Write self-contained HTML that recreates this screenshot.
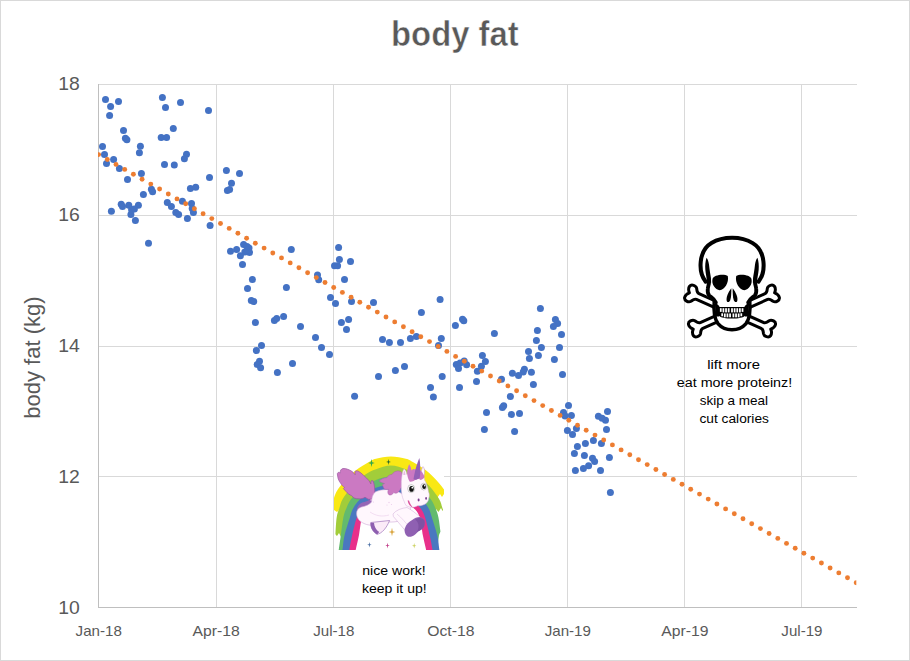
<!DOCTYPE html>
<html><head><meta charset="utf-8"><title>body fat</title>
<style>
html,body{margin:0;padding:0;background:#fff;}
#chart{position:relative;width:910px;height:661px;background:#fff;overflow:hidden;font-family:"Liberation Sans",sans-serif;}
#frame{position:absolute;left:0;top:0;width:908px;height:659px;border:1px solid #D9D9D9;pointer-events:none;}
</style></head><body>
<div id="chart">
<svg width="910" height="661" viewBox="0 0 910 661" style="position:absolute;left:0;top:0">
<defs><clipPath id="plot"><rect x="98" y="84" width="758.3" height="524"/></clipPath></defs>
<g shape-rendering="crispEdges" fill="#D9D9D9">
<rect x="98" y="84" width="759" height="1"/>
<rect x="98" y="215" width="759" height="1"/>
<rect x="98" y="346" width="759" height="1"/>
<rect x="98" y="476" width="759" height="1"/>
<rect x="216" y="84" width="1" height="523"/>
<rect x="333" y="84" width="1" height="523"/>
<rect x="450" y="84" width="1" height="523"/>
<rect x="567" y="84" width="1" height="523"/>
<rect x="684" y="84" width="1" height="523"/>
<rect x="801" y="84" width="1" height="523"/>
</g>
<g shape-rendering="crispEdges" fill="#BFBFBF">
<rect x="98" y="84" width="1" height="524"/>
<rect x="98" y="607" width="759" height="1"/>
</g>
<g fill="#4472C4">
<circle cx="105.5" cy="99.6" r="3.5"/>
<circle cx="118.5" cy="101.5" r="3.5"/>
<circle cx="110.6" cy="106.6" r="3.5"/>
<circle cx="109.6" cy="115.4" r="3.5"/>
<circle cx="162.4" cy="97.4" r="3.5"/>
<circle cx="165.5" cy="107.5" r="3.5"/>
<circle cx="180.5" cy="102.5" r="3.5"/>
<circle cx="208.5" cy="110.6" r="3.5"/>
<circle cx="123.5" cy="130.5" r="3.5"/>
<circle cx="125.4" cy="138.2" r="3.5"/>
<circle cx="126.9" cy="139.7" r="3.5"/>
<circle cx="173.3" cy="128.4" r="3.5"/>
<circle cx="161.2" cy="137.6" r="3.5"/>
<circle cx="166.6" cy="137.6" r="3.5"/>
<circle cx="140.4" cy="146.3" r="3.5"/>
<circle cx="139.4" cy="152.7" r="3.5"/>
<circle cx="102.5" cy="146.4" r="3.5"/>
<circle cx="104.5" cy="154.4" r="3.5"/>
<circle cx="113.6" cy="159.5" r="3.5"/>
<circle cx="106.5" cy="163.5" r="3.5"/>
<circle cx="186.5" cy="154.3" r="3.5"/>
<circle cx="184.4" cy="158.7" r="3.5"/>
<circle cx="164.5" cy="164.4" r="3.5"/>
<circle cx="174.3" cy="165" r="3.5"/>
<circle cx="119.4" cy="168.5" r="3.5"/>
<circle cx="141.4" cy="173.4" r="3.5"/>
<circle cx="127.5" cy="179.6" r="3.5"/>
<circle cx="209.5" cy="177.4" r="3.5"/>
<circle cx="190.4" cy="188.6" r="3.5"/>
<circle cx="195.7" cy="187.3" r="3.5"/>
<circle cx="151.4" cy="189.3" r="3.5"/>
<circle cx="152.6" cy="191.7" r="3.5"/>
<circle cx="143.4" cy="194.4" r="3.5"/>
<circle cx="167.3" cy="202.4" r="3.5"/>
<circle cx="171.4" cy="206.5" r="3.5"/>
<circle cx="175.8" cy="212.4" r="3.5"/>
<circle cx="178.6" cy="214.5" r="3.5"/>
<circle cx="182.4" cy="201.3" r="3.5"/>
<circle cx="191.5" cy="203.4" r="3.5"/>
<circle cx="192.2" cy="208.4" r="3.5"/>
<circle cx="193.4" cy="212.4" r="3.5"/>
<circle cx="187.4" cy="218.5" r="3.5"/>
<circle cx="210.1" cy="225.5" r="3.5"/>
<circle cx="111.4" cy="211.3" r="3.5"/>
<circle cx="121.2" cy="204.2" r="3.5"/>
<circle cx="122.5" cy="206.5" r="3.5"/>
<circle cx="128.8" cy="205.3" r="3.5"/>
<circle cx="138.4" cy="205.3" r="3.5"/>
<circle cx="131.6" cy="209.7" r="3.5"/>
<circle cx="134.4" cy="209.1" r="3.5"/>
<circle cx="130.9" cy="214.5" r="3.5"/>
<circle cx="135.4" cy="220.6" r="3.5"/>
<circle cx="148.5" cy="243.3" r="3.5"/>
<circle cx="226.4" cy="170.5" r="3.5"/>
<circle cx="239.5" cy="173.4" r="3.5"/>
<circle cx="231.5" cy="183.3" r="3.5"/>
<circle cx="227.4" cy="190.5" r="3.5"/>
<circle cx="229.6" cy="189.6" r="3.5"/>
<circle cx="243.6" cy="244.4" r="3.5"/>
<circle cx="247.0" cy="246.4" r="3.5"/>
<circle cx="249" cy="248" r="3.5"/>
<circle cx="249.5" cy="252.6" r="3.5"/>
<circle cx="244.8" cy="252" r="3.5"/>
<circle cx="240.4" cy="255.7" r="3.5"/>
<circle cx="236.6" cy="249.4" r="3.5"/>
<circle cx="230.5" cy="251.3" r="3.5"/>
<circle cx="291.3" cy="249.6" r="3.5"/>
<circle cx="242.5" cy="264.6" r="3.5"/>
<circle cx="252.4" cy="279.5" r="3.5"/>
<circle cx="247.5" cy="288.4" r="3.5"/>
<circle cx="251.3" cy="300.5" r="3.5"/>
<circle cx="253.7" cy="301.5" r="3.5"/>
<circle cx="255.4" cy="322.4" r="3.5"/>
<circle cx="274.4" cy="320.6" r="3.5"/>
<circle cx="276.7" cy="318.4" r="3.5"/>
<circle cx="283.6" cy="316.4" r="3.5"/>
<circle cx="286.4" cy="287.4" r="3.5"/>
<circle cx="300.5" cy="326.5" r="3.5"/>
<circle cx="317.5" cy="275.1" r="3.5"/>
<circle cx="318.7" cy="279.8" r="3.5"/>
<circle cx="261.5" cy="345.4" r="3.5"/>
<circle cx="256.4" cy="350.6" r="3.5"/>
<circle cx="259.5" cy="361.2" r="3.5"/>
<circle cx="257.2" cy="364.6" r="3.5"/>
<circle cx="260.6" cy="367.8" r="3.5"/>
<circle cx="277.4" cy="372.5" r="3.5"/>
<circle cx="292.5" cy="363.5" r="3.5"/>
<circle cx="315.5" cy="337.5" r="3.5"/>
<circle cx="321.5" cy="347.6" r="3.5"/>
<circle cx="338.6" cy="247.5" r="3.5"/>
<circle cx="339.4" cy="259.5" r="3.5"/>
<circle cx="350.5" cy="261.4" r="3.5"/>
<circle cx="334.5" cy="265.8" r="3.5"/>
<circle cx="337.6" cy="265.8" r="3.5"/>
<circle cx="344.5" cy="279.5" r="3.5"/>
<circle cx="330.5" cy="297.4" r="3.5"/>
<circle cx="335.5" cy="303.4" r="3.5"/>
<circle cx="351.5" cy="301.6" r="3.5"/>
<circle cx="373.5" cy="302.4" r="3.5"/>
<circle cx="421.4" cy="312.4" r="3.5"/>
<circle cx="440.1" cy="299.5" r="3.5"/>
<circle cx="348.6" cy="319.5" r="3.5"/>
<circle cx="341.4" cy="322.5" r="3.5"/>
<circle cx="346.5" cy="329.4" r="3.5"/>
<circle cx="382.5" cy="339.4" r="3.5"/>
<circle cx="389.4" cy="342.5" r="3.5"/>
<circle cx="400.5" cy="342.5" r="3.5"/>
<circle cx="410.4" cy="338.5" r="3.5"/>
<circle cx="416.4" cy="336.4" r="3.5"/>
<circle cx="441.3" cy="338.5" r="3.5"/>
<circle cx="438.5" cy="345.6" r="3.5"/>
<circle cx="329.5" cy="354.4" r="3.5"/>
<circle cx="378.5" cy="376.4" r="3.5"/>
<circle cx="395.4" cy="370.5" r="3.5"/>
<circle cx="404.5" cy="366.5" r="3.5"/>
<circle cx="430.5" cy="387.5" r="3.5"/>
<circle cx="354.6" cy="396.2" r="3.5"/>
<circle cx="433.4" cy="397" r="3.5"/>
<circle cx="442.2" cy="376.4" r="3.5"/>
<circle cx="462.5" cy="319.3" r="3.5"/>
<circle cx="463.8" cy="320.8" r="3.5"/>
<circle cx="455.4" cy="325.5" r="3.5"/>
<circle cx="494.4" cy="333.6" r="3.5"/>
<circle cx="540.4" cy="308.6" r="3.5"/>
<circle cx="555.4" cy="319.5" r="3.5"/>
<circle cx="557.6" cy="323.5" r="3.5"/>
<circle cx="553.4" cy="326.6" r="3.5"/>
<circle cx="537.4" cy="330.4" r="3.5"/>
<circle cx="536.4" cy="340.5" r="3.5"/>
<circle cx="541.4" cy="347.5" r="3.5"/>
<circle cx="528.5" cy="351.4" r="3.5"/>
<circle cx="529.4" cy="358.6" r="3.5"/>
<circle cx="538.4" cy="355.6" r="3.5"/>
<circle cx="554.4" cy="359.5" r="3.5"/>
<circle cx="482.4" cy="355.5" r="3.5"/>
<circle cx="485.4" cy="361.4" r="3.5"/>
<circle cx="481.4" cy="366.3" r="3.5"/>
<circle cx="477.4" cy="371.2" r="3.5"/>
<circle cx="464.2" cy="361.1" r="3.5"/>
<circle cx="466.6" cy="364.7" r="3.5"/>
<circle cx="456.3" cy="364.5" r="3.5"/>
<circle cx="460.1" cy="363" r="3.5"/>
<circle cx="458.5" cy="368.5" r="3.5"/>
<circle cx="512.4" cy="373.2" r="3.5"/>
<circle cx="524.4" cy="369.2" r="3.5"/>
<circle cx="523.2" cy="371.9" r="3.5"/>
<circle cx="531.4" cy="372.3" r="3.5"/>
<circle cx="459.5" cy="387.6" r="3.5"/>
<circle cx="476.5" cy="381.6" r="3.5"/>
<circle cx="501.5" cy="379.2" r="3.5"/>
<circle cx="518.5" cy="375.5" r="3.5"/>
<circle cx="533.4" cy="384.5" r="3.5"/>
<circle cx="510.4" cy="396.4" r="3.5"/>
<circle cx="502.4" cy="407.5" r="3.5"/>
<circle cx="503.7" cy="405.8" r="3.5"/>
<circle cx="486.5" cy="412.5" r="3.5"/>
<circle cx="511.4" cy="414.4" r="3.5"/>
<circle cx="519.5" cy="413.4" r="3.5"/>
<circle cx="484.4" cy="429.6" r="3.5"/>
<circle cx="514.6" cy="431.5" r="3.5"/>
<circle cx="561.5" cy="334.5" r="3.5"/>
<circle cx="559.5" cy="347.5" r="3.5"/>
<circle cx="562.5" cy="374.6" r="3.5"/>
<circle cx="568.5" cy="405.5" r="3.5"/>
<circle cx="563.5" cy="412.5" r="3.5"/>
<circle cx="565.1" cy="415.9" r="3.5"/>
<circle cx="571.4" cy="415.4" r="3.5"/>
<circle cx="607.5" cy="411.5" r="3.5"/>
<circle cx="598.4" cy="416.3" r="3.5"/>
<circle cx="602.1" cy="418.2" r="3.5"/>
<circle cx="605.5" cy="420.3" r="3.5"/>
<circle cx="606.5" cy="429.5" r="3.5"/>
<circle cx="576.4" cy="428.6" r="3.5"/>
<circle cx="567.4" cy="430.5" r="3.5"/>
<circle cx="572.5" cy="434.5" r="3.5"/>
<circle cx="593.4" cy="440.5" r="3.5"/>
<circle cx="585.4" cy="443.4" r="3.5"/>
<circle cx="601.4" cy="443.5" r="3.5"/>
<circle cx="577.4" cy="446.4" r="3.5"/>
<circle cx="574.4" cy="453.4" r="3.5"/>
<circle cx="584.4" cy="455.4" r="3.5"/>
<circle cx="592.5" cy="458.3" r="3.5"/>
<circle cx="594.6" cy="461.5" r="3.5"/>
<circle cx="609.4" cy="457.5" r="3.5"/>
<circle cx="588.6" cy="465.8" r="3.5"/>
<circle cx="583.4" cy="468.5" r="3.5"/>
<circle cx="575.4" cy="470.5" r="3.5"/>
<circle cx="600.5" cy="470.5" r="3.5"/>
<circle cx="610.4" cy="492.4" r="3.5"/>
</g>
<g fill="#ED7D31" clip-path="url(#plot)">
<circle cx="98.6" cy="154.6" r="2.45"/>
<circle cx="107.3" cy="159.5" r="2.45"/>
<circle cx="116.0" cy="164.4" r="2.45"/>
<circle cx="124.7" cy="169.4" r="2.45"/>
<circle cx="133.4" cy="174.3" r="2.45"/>
<circle cx="142.1" cy="179.2" r="2.45"/>
<circle cx="150.8" cy="184.1" r="2.45"/>
<circle cx="159.6" cy="189.0" r="2.45"/>
<circle cx="168.3" cy="194.0" r="2.45"/>
<circle cx="177.0" cy="198.9" r="2.45"/>
<circle cx="185.7" cy="203.8" r="2.45"/>
<circle cx="194.4" cy="208.7" r="2.45"/>
<circle cx="203.1" cy="213.7" r="2.45"/>
<circle cx="211.8" cy="218.6" r="2.45"/>
<circle cx="220.5" cy="223.5" r="2.45"/>
<circle cx="229.2" cy="228.4" r="2.45"/>
<circle cx="237.9" cy="233.3" r="2.45"/>
<circle cx="246.6" cy="238.3" r="2.45"/>
<circle cx="255.3" cy="243.2" r="2.45"/>
<circle cx="264.1" cy="248.1" r="2.45"/>
<circle cx="272.8" cy="253.0" r="2.45"/>
<circle cx="281.5" cy="257.9" r="2.45"/>
<circle cx="290.2" cy="262.9" r="2.45"/>
<circle cx="298.9" cy="267.8" r="2.45"/>
<circle cx="307.6" cy="272.7" r="2.45"/>
<circle cx="316.3" cy="277.6" r="2.45"/>
<circle cx="325.0" cy="282.5" r="2.45"/>
<circle cx="333.7" cy="287.5" r="2.45"/>
<circle cx="342.4" cy="292.4" r="2.45"/>
<circle cx="351.1" cy="297.3" r="2.45"/>
<circle cx="359.8" cy="302.2" r="2.45"/>
<circle cx="368.5" cy="307.2" r="2.45"/>
<circle cx="377.3" cy="312.1" r="2.45"/>
<circle cx="386.0" cy="317.0" r="2.45"/>
<circle cx="394.7" cy="321.9" r="2.45"/>
<circle cx="403.4" cy="326.8" r="2.45"/>
<circle cx="412.1" cy="331.8" r="2.45"/>
<circle cx="420.8" cy="336.7" r="2.45"/>
<circle cx="429.5" cy="341.6" r="2.45"/>
<circle cx="438.2" cy="346.5" r="2.45"/>
<circle cx="446.9" cy="351.4" r="2.45"/>
<circle cx="455.6" cy="356.4" r="2.45"/>
<circle cx="464.3" cy="361.3" r="2.45"/>
<circle cx="473.0" cy="366.2" r="2.45"/>
<circle cx="481.8" cy="371.1" r="2.45"/>
<circle cx="490.5" cy="376.0" r="2.45"/>
<circle cx="499.2" cy="381.0" r="2.45"/>
<circle cx="507.9" cy="385.9" r="2.45"/>
<circle cx="516.6" cy="390.8" r="2.45"/>
<circle cx="525.3" cy="395.7" r="2.45"/>
<circle cx="534.0" cy="400.6" r="2.45"/>
<circle cx="542.7" cy="405.6" r="2.45"/>
<circle cx="551.4" cy="410.5" r="2.45"/>
<circle cx="560.1" cy="415.4" r="2.45"/>
<circle cx="568.8" cy="420.3" r="2.45"/>
<circle cx="577.5" cy="425.3" r="2.45"/>
<circle cx="586.2" cy="430.2" r="2.45"/>
<circle cx="595.0" cy="435.1" r="2.45"/>
<circle cx="603.7" cy="440.0" r="2.45"/>
<circle cx="612.4" cy="444.9" r="2.45"/>
<circle cx="621.1" cy="449.9" r="2.45"/>
<circle cx="629.8" cy="454.8" r="2.45"/>
<circle cx="638.5" cy="459.7" r="2.45"/>
<circle cx="647.2" cy="464.6" r="2.45"/>
<circle cx="655.9" cy="469.5" r="2.45"/>
<circle cx="664.6" cy="474.5" r="2.45"/>
<circle cx="673.3" cy="479.4" r="2.45"/>
<circle cx="682.0" cy="484.3" r="2.45"/>
<circle cx="690.7" cy="489.2" r="2.45"/>
<circle cx="699.5" cy="494.1" r="2.45"/>
<circle cx="708.2" cy="499.1" r="2.45"/>
<circle cx="716.9" cy="504.0" r="2.45"/>
<circle cx="725.6" cy="508.9" r="2.45"/>
<circle cx="734.3" cy="513.8" r="2.45"/>
<circle cx="743.0" cy="518.8" r="2.45"/>
<circle cx="751.7" cy="523.7" r="2.45"/>
<circle cx="760.4" cy="528.6" r="2.45"/>
<circle cx="769.1" cy="533.5" r="2.45"/>
<circle cx="777.8" cy="538.4" r="2.45"/>
<circle cx="786.5" cy="543.4" r="2.45"/>
<circle cx="795.2" cy="548.3" r="2.45"/>
<circle cx="803.9" cy="553.2" r="2.45"/>
<circle cx="812.7" cy="558.1" r="2.45"/>
<circle cx="821.4" cy="563.0" r="2.45"/>
<circle cx="830.1" cy="568.0" r="2.45"/>
<circle cx="838.8" cy="572.9" r="2.45"/>
<circle cx="847.5" cy="577.8" r="2.45"/>
<circle cx="856.2" cy="582.7" r="2.45"/>
</g>
<text transform="translate(454.9,45.8) scale(0.96,1)" font-family="Liberation Sans, sans-serif" font-size="34.2" font-weight="bold" stroke="#fff" stroke-width="0.5" fill="#595959" text-anchor="middle">body fat</text>
<text transform="translate(79.7,90.2) scale(1.02,1)" font-family="Liberation Sans, sans-serif" font-size="19.0" fill="#595959" text-anchor="end">18</text>
<text transform="translate(79.7,221.1) scale(1.02,1)" font-family="Liberation Sans, sans-serif" font-size="19.0" fill="#595959" text-anchor="end">16</text>
<text transform="translate(79.7,352.2) scale(1.02,1)" font-family="Liberation Sans, sans-serif" font-size="19.0" fill="#595959" text-anchor="end">14</text>
<text transform="translate(79.7,483.0) scale(1.02,1)" font-family="Liberation Sans, sans-serif" font-size="19.0" fill="#595959" text-anchor="end">12</text>
<text transform="translate(79.7,614.1) scale(1.02,1)" font-family="Liberation Sans, sans-serif" font-size="19.0" fill="#595959" text-anchor="end">10</text>
<text transform="translate(98.7,636.1) scale(1.008,1)" font-family="Liberation Sans, sans-serif" font-size="15.0" fill="#595959" text-anchor="middle">Jan-18</text>
<text transform="translate(216.1,636.1) scale(1.05,1)" font-family="Liberation Sans, sans-serif" font-size="15.0" fill="#595959" text-anchor="middle">Apr-18</text>
<text transform="translate(333.8,636.1) scale(1.008,1)" font-family="Liberation Sans, sans-serif" font-size="15.0" fill="#595959" text-anchor="middle">Jul-18</text>
<text transform="translate(450.8,636.1) scale(1.05,1)" font-family="Liberation Sans, sans-serif" font-size="15.0" fill="#595959" text-anchor="middle">Oct-18</text>
<text transform="translate(567.8,636.1) scale(1.008,1)" font-family="Liberation Sans, sans-serif" font-size="15.0" fill="#595959" text-anchor="middle">Jan-19</text>
<text transform="translate(684.8,636.1) scale(1.05,1)" font-family="Liberation Sans, sans-serif" font-size="15.0" fill="#595959" text-anchor="middle">Apr-19</text>
<text transform="translate(801.9,636.1) scale(1.008,1)" font-family="Liberation Sans, sans-serif" font-size="15.0" fill="#595959" text-anchor="middle">Jul-19</text>
<text transform="translate(40.3,357.6) rotate(-90)" font-family="Liberation Sans, sans-serif" font-size="22.0" fill="#595959" text-anchor="middle">body fat (kg)</text>
<text transform="translate(733.6,369) scale(1.134,1)" font-family="Liberation Sans, sans-serif" font-size="13.1" fill="#000" text-anchor="middle">lift more</text>
<text transform="translate(734.5,387) scale(1.094,1)" font-family="Liberation Sans, sans-serif" font-size="13.1" fill="#000" text-anchor="middle">eat more proteinz!</text>
<text transform="translate(733.95,405) scale(1.032,1)" font-family="Liberation Sans, sans-serif" font-size="13.1" fill="#000" text-anchor="middle">skip a meal</text>
<text transform="translate(734.2,423) scale(1.049,1)" font-family="Liberation Sans, sans-serif" font-size="13.1" fill="#000" text-anchor="middle">cut calories</text>
<text transform="translate(394.0,574.6) scale(1.062,1)" font-family="Liberation Sans, sans-serif" font-size="13.3" fill="#000" text-anchor="middle">nice work!</text>
<text transform="translate(394.3,592.6) scale(1.056,1)" font-family="Liberation Sans, sans-serif" font-size="13.3" fill="#000" text-anchor="middle">keep it up!</text>
</svg>
<svg style="position:absolute;left:334px;top:456px" width="110" height="94" viewBox="0 0 110 94">
<defs>
<clipPath id="cy"><path d="M0 0 L110 0 L110 38 L108 41 L106 38 L103 42 L100 39 L97 94 L14 94 L12 53 L9 57 L6 53 L3 56 L0 54 Z"/></clipPath>
<clipPath id="clg"><path d="M0 0 L110 0 L110 52 L108.5 55 L107 52 L104.5 56 L102 53 L100 94 L10 94 L9 77 L7 81 L5 77 L3 80 L0 77 Z"/></clipPath>
<clipPath id="cg"><path d="M0 0 L110 0 L110 75 L108 78.5 L106.5 75.5 L105 79 L103 94 L0 94 Z"/></clipPath>
</defs>
<rect width="110" height="94" fill="#fff"/>
<path d="M-3.10 94.00 C-2.93 88.50 -2.72 70.00 -2.10 61.00 C-1.48 52.00 -1.23 45.67 0.60 40.00 C2.43 34.33 5.40 31.25 8.90 27.00 C12.40 22.75 17.27 18.00 21.60 14.50 C25.93 11.00 31.50 7.97 34.90 6.00 C38.30 4.03 38.33 3.60 42.00 2.70 C45.67 1.80 51.93 0.60 56.90 0.60 C61.87 0.60 68.13 1.80 71.80 2.70 C75.47 3.60 75.50 4.03 78.90 6.00 C82.30 7.97 87.87 11.00 92.20 14.50 C96.53 18.00 101.40 22.75 104.90 27.00 C108.40 31.25 111.37 34.33 113.20 40.00 C115.03 45.67 115.28 52.00 115.90 61.00 C116.52 70.00 116.73 88.50 116.90 94.00 Z" fill="#F9E814" clip-path="url(#cy)"/>
<path d="M0.90 94.00 C0.98 91.57 1.10 84.87 1.40 79.40 C1.70 73.93 2.03 65.75 2.70 61.20 C3.37 56.65 4.40 55.13 5.40 52.10 C6.40 49.07 6.53 46.68 8.70 43.00 C10.87 39.32 14.68 34.03 18.40 30.00 C22.12 25.97 27.07 21.58 31.00 18.80 C34.93 16.02 37.68 14.83 42.00 13.30 C46.32 11.77 51.93 9.60 56.90 9.60 C61.87 9.60 67.48 11.77 71.80 13.30 C76.12 14.83 78.87 16.02 82.80 18.80 C86.73 21.58 91.68 25.97 95.40 30.00 C99.12 34.03 102.93 39.32 105.10 43.00 C107.27 46.68 107.40 49.07 108.40 52.10 C109.40 55.13 110.43 56.65 111.10 61.20 C111.77 65.75 112.10 73.93 112.40 79.40 C112.70 84.87 112.82 91.57 112.90 94.00 Z" fill="#A2CD3A" clip-path="url(#clg)"/>
<path d="M4.70 94.00 C4.75 93.67 4.65 94.43 5.00 92.00 C5.35 89.57 6.07 84.53 6.80 79.40 C7.53 74.27 8.45 65.75 9.40 61.20 C10.35 56.65 11.20 55.13 12.50 52.10 C13.80 49.07 14.47 46.35 17.20 43.00 C19.93 39.65 24.77 35.18 28.90 32.00 C33.03 28.82 37.33 25.80 42.00 23.90 C46.67 22.00 51.93 20.60 56.90 20.60 C61.87 20.60 67.13 22.00 71.80 23.90 C76.47 25.80 80.77 28.82 84.90 32.00 C89.03 35.18 93.87 39.65 96.60 43.00 C99.33 46.35 100.00 49.07 101.30 52.10 C102.60 55.13 103.45 56.65 104.40 61.20 C105.35 65.75 106.27 74.27 107.00 79.40 C107.73 84.53 108.45 89.57 108.80 92.00 C109.15 94.43 109.05 93.67 109.10 94.00 Z" fill="#63BA6E" clip-path="url(#cg)"/>
<path d="M8.40 94.00 C8.45 93.67 8.35 94.43 8.70 92.00 C9.05 89.57 9.28 84.53 10.50 79.40 C11.72 74.27 14.52 65.75 16.00 61.20 C17.48 56.65 17.68 55.13 19.40 52.10 C21.12 49.07 22.53 46.38 26.30 43.00 C30.07 39.62 36.90 34.05 42.00 31.80 C47.10 29.55 51.93 29.50 56.90 29.50 C61.87 29.50 66.70 29.55 71.80 31.80 C76.90 34.05 83.73 39.62 87.50 43.00 C91.27 46.38 92.68 49.07 94.40 52.10 C96.12 55.13 96.32 56.65 97.80 61.20 C99.28 65.75 102.08 74.27 103.30 79.40 C104.52 84.53 104.75 89.57 105.10 92.00 C105.45 94.43 105.35 93.67 105.40 94.00 Z" fill="#4A78C0"/>
<path d="M15.30 94.00 C15.35 93.67 15.13 94.43 15.60 92.00 C16.07 89.57 16.90 84.53 18.10 79.40 C19.30 74.27 21.23 65.75 22.80 61.20 C24.37 56.65 25.15 55.13 27.50 52.10 C29.85 49.07 33.50 45.35 36.90 43.00 C40.30 40.65 44.57 39.13 47.90 38.00 C51.23 36.87 53.90 36.20 56.90 36.20 C59.90 36.20 62.57 36.87 65.90 38.00 C69.23 39.13 73.50 40.65 76.90 43.00 C80.30 45.35 83.95 49.07 86.30 52.10 C88.65 55.13 89.43 56.65 91.00 61.20 C92.57 65.75 94.50 74.27 95.70 79.40 C96.90 84.53 97.73 89.57 98.20 92.00 C98.67 94.43 98.45 93.67 98.50 94.00 Z" fill="#E8308A"/>
<path d="M21.70 94.00 C21.77 93.67 21.57 94.43 22.10 92.00 C22.63 89.57 23.90 84.53 24.90 79.40 C25.90 74.27 26.53 65.77 28.10 61.20 C29.67 56.63 31.50 54.53 34.30 52.00 C37.10 49.47 41.13 47.50 44.90 46.00 C48.67 44.50 52.90 43.00 56.90 43.00 C60.90 43.00 65.13 44.50 68.90 46.00 C72.67 47.50 76.70 49.47 79.50 52.00 C82.30 54.53 84.13 56.63 85.70 61.20 C87.27 65.77 87.90 74.27 88.90 79.40 C89.90 84.53 91.17 89.57 91.70 92.00 C92.23 94.43 92.03 93.67 92.10 94.00 Z" fill="#fff"/>
<path d="M3.3 17.7 L4.3 16.3 L6.3 16.9 C6 14.5 7 13 9 12.5 C11 12.3 12.5 12.8 13.7 13.3 C16 14 18 15.3 19.2 16.5 L21.2 18.8 C21 16.5 21 15.2 21.6 14.9 L23.9 14.9 C26 16 28 17.8 29.4 19.2 C31.5 21 33.5 23 35 24.7 L36.9 27.9 C36.8 26.5 37 25 37.3 24.7 L38.9 24.7 C39.8 26.5 40.3 29 40.5 31 L40.8 35 C41 38 40 40.5 38.9 42 C37.5 43.2 35.5 43.5 34.2 43.2 L31 41.2 C29 42.5 27 43 25.5 42.8 C23.5 43 21.5 42.6 20 42 L17.7 39.7 C15.5 38.8 13.5 37.2 12.2 35.7 L9.4 32.6 L10.6 31.4 C9 30.5 7.5 28.8 6.6 27.1 C5.2 25.5 4.3 23.5 3.9 21.6 Z" fill="#CB79C2" stroke="#9A55A0" stroke-width="0.7" stroke-linejoin="round"/>
<path d="M22.8 53.5 C23.5 49.5 26.5 46.5 30.5 46 L36 44 L38.5 43 L38.5 49 L30 54 L23.5 56 Z" fill="#9466B6"/>
<path d="M22.6 58 C22.4 54.5 24.2 52 27.5 51 C31.5 50.3 35.5 48.6 37.6 46 C37.6 42 38.6 38.2 41.5 35.8 C48 33 56 33 62 35 C68 37 73 41 75.5 46 C78 52 76 58 72 62 C66 66.5 56 66.5 49 65.5 C45 69.5 36 70.5 30 67.5 C25.5 65.5 22.8 62 22.6 58 Z" fill="#FFF7FD" stroke="#CFA8D6" stroke-width="0.6"/>
<path d="M36 56 C42 60 48 61 55 59" fill="none" stroke="#E9CBEA" stroke-width="0.6"/>
<circle cx="37" cy="44" r="0.7" fill="#EBCDEB"/><circle cx="39.5" cy="46" r="0.6" fill="#EBCDEB"/><circle cx="55" cy="46.5" r="0.7" fill="#EBCDEB"/><circle cx="57.5" cy="48.5" r="0.6" fill="#EBCDEB"/><circle cx="53" cy="49" r="0.6" fill="#EBCDEB"/>
<path d="M36.8 66.5 C36.5 71 38.5 75.5 43 78.3 C48 77.5 52.5 72 55.6 64.5 Z" fill="#FBEBF8" stroke="#8E5FB0" stroke-width="0.6"/>
<path d="M36.6 66.8 C36.2 71.5 38.8 76.2 43.2 78.6 L45.2 76 C42 74 40.2 70.5 40 66.8 Z" fill="#8E5FB0"/>
<path d="M59 58 C62 54 68 52 73 51.5 C78 54 82 57.5 86 61 L74 78 C70 73 64 66 59.4 60.5 Z" fill="#FFF7FD" stroke="#CFA8D6" stroke-width="0.5"/>
<path d="M63 58 C68 62 72 67 75 71" fill="none" stroke="#DDBBE0" stroke-width="0.5"/>
<path d="M70.7 72.8 C72 68.5 75 65.5 78.2 64 C80.5 62 83 61 85.7 61 C88.5 61.5 90.5 63 90.7 65.3 C91 68 90.5 70 89.5 71.6 C88 73.5 86.5 74.6 84.5 75.3 C82.5 77.5 80.5 79.5 78.2 80.3 C76.5 81 74.5 81 73.2 80.3 C71 78.5 70.2 75.5 70.7 72.8 Z" fill="#8F60B2"/>
<path d="M81 63.5 C83.5 65 84.8 68 84.5 71 C84.4 72.8 83.8 74.5 83 75.8 C85.5 75 88 73.5 89.5 71.6 C90.8 69.5 91 66.5 90.4 64.5 C89 61.8 84.5 60.8 81 63.5 Z" fill="#7F52A3"/>
<path d="M45.2 25.1 C47 23 50 21.8 53 21.6 C54 19.5 56 18.5 58 18.4 C59 16.5 61.5 15 63.8 14.9 C65.5 14.8 67 15.6 67.7 16.5 C69 20 69 26 68 31 L66.9 32 C66 34 65 35.5 63.8 36.5 C62.5 37.5 61 37.5 59.9 36.5 C58.5 38.5 56.5 39.5 55.1 38.9 C53.5 37.5 53.5 35 54.6 33.4 L53 33.4 C51.5 33.6 50.3 33 49.9 32.6 L48.3 28.7 L50.5 27.5 C48.5 27.2 46.5 26.4 45.2 25.1 Z" fill="#CB79C2" stroke="#A660AA" stroke-width="0.5" stroke-linejoin="round"/>
<path d="M68.1 18.4 C68.5 15.5 69.3 13.6 70.2 12.9 C71.8 14.2 72.6 16.3 72.8 18.4 C76 17 82 16.5 86.6 18 C89.5 19.5 90.5 21.5 90.5 23.9 C91.6 25.5 92.5 27.5 92.9 29.4 C93.8 31.5 94.3 33.6 94.5 35.7 C95.4 37.5 95.6 40 94.8 42 C94.6 44 93.9 45.6 92.9 46.7 C90.5 49 87 50 83.5 49.8 C80.5 51.5 76.5 52 74.2 50.5 L72.4 49.9 C71.2 48.5 70.5 46.8 70.1 45.2 C68.8 42.8 68 40 67.7 37.3 C67.2 34.7 67.1 32 67.3 29.4 C67.2 26.7 67.3 24 67.7 21.6 Z" fill="#FFF7FD" stroke="#D5B0DA" stroke-width="0.5"/>
<path d="M69.3 19 C69.4 17 69.8 15.5 70.3 14.6 C71 15.8 71.4 17.4 71.4 19 Z" fill="#E8B9E4"/>
<path d="M86.6 18.5 C87 15 88 12 89 10.6 C90.3 12 90.8 14 90.5 16 C90.6 18.5 90 20.5 89 22 Z" fill="#FFF7FD" stroke="#C08AC8" stroke-width="0.5"/>
<path d="M73.2 17.5 C73 14.5 73.8 10.5 75.2 8.2 C76.5 10 77.3 12.5 77.5 14.5 C78.5 13 80 12.5 81 13.5 C83 12.8 85.5 13.5 87 15 C88.5 16 89.6 18.5 90.5 20.8 C90 22.5 88.5 23.7 86.6 23.9 C85.5 22.8 84.2 22.6 83 23.4 C82.3 23.6 81.6 23.8 81 24 C79.5 25.5 77 26 75.6 25.5 C74 23 73.3 20 73.2 17.5 Z" fill="#CB79C2"/>
<path d="M79.5 23.2 C80.6 16 82.8 7.5 85.4 1.9 C86.4 7.5 86.6 15 85.8 21.6 C84 23.5 81.3 24.2 79.5 23.2 Z" fill="#9360B6"/>
<ellipse cx="77.2" cy="32.6" rx="3.5" ry="4" fill="#fff" stroke="#8a8a8a" stroke-width="0.45"/><ellipse cx="77.5" cy="32.9" rx="2.3" ry="2.8" fill="#111"/><circle cx="78.3" cy="31.7" r="0.9" fill="#fff"/>
<ellipse cx="89.7" cy="30.6" rx="2.9" ry="3.4" fill="#fff" stroke="#8a8a8a" stroke-width="0.45"/><ellipse cx="90.1" cy="30.7" rx="1.9" ry="2.4" fill="#111"/><circle cx="90.7" cy="29.7" r="0.8" fill="#fff"/>
<ellipse cx="84.6" cy="44" rx="1" ry="1.4" fill="#7A3F8F"/><ellipse cx="92.1" cy="42.4" rx="0.9" ry="1.3" fill="#7A3F8F"/>
<path d="M73.6 44.5 C74.2 48 76 50.5 79 51.8 C77.3 49.3 75.6 47 75 44.5 Z" fill="#D9529B"/>
<path d="M37.5 3 L38.22 6.28 L40.7 7 L38.22 7.72 L37.5 11 L36.78 7.72 L34.3 7 L36.78 6.28 Z" fill="#2FA84F"/>
<path d="M54.5 2.9000000000000004 L55.04 5.36 L56.9 5.9 L55.04 6.44 L54.5 8.9 L53.96 6.44 L52.1 5.9 L53.96 5.36 Z" fill="#2E6B2E"/>
<path d="M58 71.8 L58.756 75.244 L61.36 76 L58.756 76.756 L58 80.2 L57.244 76.756 L54.64 76 L57.244 75.244 Z" fill="#D9A33B"/>
<path d="M35.4 86.0 L35.903999999999996 88.29599999999999 L37.64 88.8 L35.903999999999996 89.304 L35.4 91.6 L34.896 89.304 L33.16 88.8 L34.896 88.29599999999999 Z" fill="#4A6FA5"/>
<path d="M53.5 86.8 L54.004 89.09599999999999 L55.74 89.6 L54.004 90.104 L53.5 92.39999999999999 L52.996 90.104 L51.26 89.6 L52.996 89.09599999999999 Z" fill="#C2428B"/>
<path d="M80.2 87.0 L80.70400000000001 89.29599999999999 L82.44 89.8 L80.70400000000001 90.304 L80.2 92.6 L79.696 90.304 L77.96000000000001 89.8 L79.696 89.29599999999999 Z" fill="#C9CF58"/>
</svg>
<svg style="position:absolute;left:672px;top:228px" width="120" height="116" viewBox="0 0 684 661">
<path d="M153.8 374.4 L522.9 538.7 C535.6 544.4 544.2 535.1 553.7 528.4 C568.6 519.7 593.3 532.9 590.1 550.0 C587.5 563.1 576.2 571.2 563.0 576.3 C568.1 589.5 569.6 603.3 561.6 614.0 C551.0 627.9 524.6 618.3 521.2 601.5 C519.8 589.9 521.0 577.3 508.2 571.6 L139.1 407.3 C126.4 401.6 117.8 410.9 108.3 417.6 C93.4 426.3 68.7 413.1 71.9 396.0 C74.5 382.9 85.8 374.8 99.0 369.7 C93.9 356.5 92.4 342.7 100.4 332.0 C111.0 318.1 137.4 327.7 140.8 344.5 C142.2 356.1 141.0 368.7 153.8 374.4 Z" fill="#fff" stroke="#000" stroke-width="17" stroke-linejoin="round"/>
<path d="M161.1 538.7 L530.2 374.4 C543.0 368.7 541.8 356.1 543.2 344.5 C546.6 327.7 573.0 318.1 583.6 332.0 C591.6 342.7 590.1 356.5 585.0 369.7 C598.2 374.8 609.5 382.9 612.1 396.0 C615.3 413.1 590.6 426.3 575.7 417.6 C566.2 410.9 557.6 401.6 544.9 407.3 L175.8 571.6 C163.0 577.3 164.2 589.9 162.8 601.5 C159.4 618.3 133.0 627.9 122.4 614.0 C114.4 603.3 115.9 589.5 121.0 576.3 C107.8 571.2 96.5 563.1 93.9 550.0 C90.7 532.9 115.4 519.7 130.3 528.4 C139.8 535.1 148.4 544.4 161.1 538.7 Z" fill="#fff" stroke="#000" stroke-width="17" stroke-linejoin="round"/>
<path d="M241 400 C236 470 240 515 262 545 C285 572 320 580 342 580 C364 580 399 572 422 545 C444 515 448 470 443 400 Z" fill="#fff"/>
<path d="M241 415 C236 470 240 515 262 545 C285 572 320 580 342 580 C364 580 399 572 422 545 C444 515 448 470 443 415" fill="none" stroke="#000" stroke-width="20" stroke-linejoin="round"/>
<path d="M190 303 C148 250 150 130 225 86 C290 46 395 46 460 86 C535 130 537 250 495 303 L490 335 L496 368 C490 395 455 395 440 430 L244 430 C229 395 194 395 188 368 L194 335 Z" fill="#fff"/>
<path d="M192 306 C148 250 150 130 225 86 C290 46 395 46 460 86 C535 130 537 250 493 306" fill="none" stroke="#000" stroke-width="23" stroke-linecap="round"/>
<path d="M197 170 C204 178 209 195 211 210 C214 240 219 265 222 285 L223 312 L200 312 C199 290 192 262 190 238 C188 215 190 190 197 170 Z" fill="#000"/>
<path d="M487 170 C480 178 475 195 473 210 C470 240 465 265 462 285 L461 312 L484 312 C485 290 492 262 494 238 C496 215 494 190 487 170 Z" fill="#000"/>
<path d="M211 305 C212 322 205 332 204 347 C202 365 203 375 212 385 C225 397 240 402 250 425" fill="none" stroke="#000" stroke-width="22" stroke-linecap="round" stroke-linejoin="round"/>
<path d="M473 305 C472 322 479 332 480 347 C482 365 481 375 472 385 C459 397 444 402 434 425" fill="none" stroke="#000" stroke-width="22" stroke-linecap="round" stroke-linejoin="round"/>
<path d="M231 290 C236 266 300 258 318 274 C326 312 300 352 272 355 C246 348 224 322 231 290 Z" fill="#000"/>
<path d="M453 290 C448 266 384 258 366 274 C358 312 384 352 412 355 C438 348 460 322 453 290 Z" fill="#000"/>
<path d="M338 343 C322 362 303 402 314 420 C329 428 339 412 338 343 Z" fill="#000"/>
<path d="M346 343 C362 362 381 402 370 420 C355 428 345 412 346 343 Z" fill="#000"/>
<path d="M262 450 L422 450 L418 498 C398 522 286 522 266 498 Z" fill="#000"/>
<path d="M244 420 L270 446 L268 505 L250 505 Z" fill="#000"/><path d="M440 420 L414 446 L416 505 L434 505 Z" fill="#000"/>
<g fill="#fff"><rect x="273" y="457" width="10" height="21"/><rect x="288" y="457" width="10" height="24"/><rect x="303" y="457" width="10" height="24"/><rect x="318" y="457" width="10" height="24"/><rect x="337" y="457" width="10" height="24"/><rect x="352" y="457" width="10" height="24"/><rect x="367" y="457" width="10" height="24"/><rect x="382" y="457" width="10" height="24"/><rect x="397" y="457" width="10" height="21"/><rect x="281" y="486" width="10" height="17"/><rect x="296" y="487" width="10" height="22"/><rect x="311" y="487" width="10" height="22"/><rect x="326" y="487" width="10" height="22"/><rect x="345" y="487" width="10" height="22"/><rect x="360" y="487" width="10" height="22"/><rect x="375" y="487" width="10" height="22"/><rect x="390" y="486" width="10" height="17"/></g>
</svg>
<div id="frame"></div>
</div>
</body></html>
